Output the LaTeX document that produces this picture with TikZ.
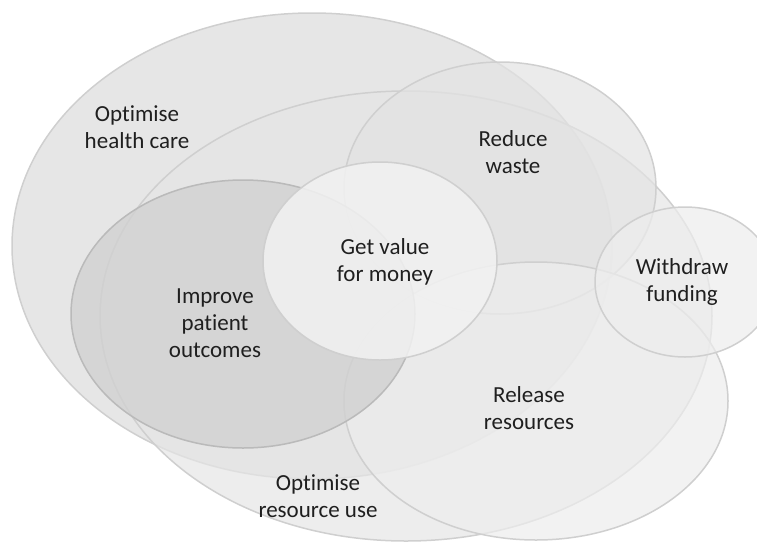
\documentclass[tikz,border=0pt]{standalone}
\usepackage{fontspec}
\setmainfont{Carlito}[Ligatures=NoCommon]
\usetikzlibrary{shapes.geometric}

\begin{document}
\begin{tikzpicture}[x=1pt,y=-1pt,
        zone/.style={draw=black!19,line width=1.5pt,ellipse,inner sep=0pt},
        lbl/.style={align=center,text=black!88,font=\fontsize{23}{27}\selectfont}]
    \useasboundingbox (0,0) rectangle (757,544);
    % the sets, back to front
    \node[zone,fill=black!12,fill opacity=0.8,minimum width=600pt,minimum height=466pt] (care) at (312,246){};
    \node[zone,fill=black!10,fill opacity=0.7,minimum width=612pt,minimum height=450pt] (use) at (406,316){};
    \node[zone,fill=black!11,fill opacity=0.7,minimum width=312pt,minimum height=252pt] (waste) at (500,188){};
    \node[zone,fill=black!7,fill opacity=0.7,minimum width=384pt,minimum height=278pt] (release) at (536,401){};
    \node[zone,fill=black!7,fill opacity=0.7,minimum width=180pt,minimum height=150pt] (withdraw) at (685,282){};
    \node[zone,draw=black!27,fill=black!18,fill opacity=0.8,minimum width=344pt,minimum height=268pt] (patient) at (243,314){};
    \node[zone,fill=black!5,fill opacity=0.85,minimum width=234pt,minimum height=198pt] (value) at (380,261){};
    % labels
    \node[lbl] (careT) at (137,127) {Optimise\\health care};
    \node[lbl] (wasteT) at (513,152) {Reduce\\waste};
    \node[lbl] (valueT) at (385,262) {Get value\\for money};
    \node[lbl] (withdrawT) at (682,282) {Withdraw\\funding};
    \node[lbl] (patientT) at (215,323) {Improve\\patient\\outcomes};
    \node[lbl] (releaseT) at (529,408) {Release\\resources};
    \node[lbl] (useT) at (318,496) {Optimise\\resource use};
\end{tikzpicture}
\end{document}
